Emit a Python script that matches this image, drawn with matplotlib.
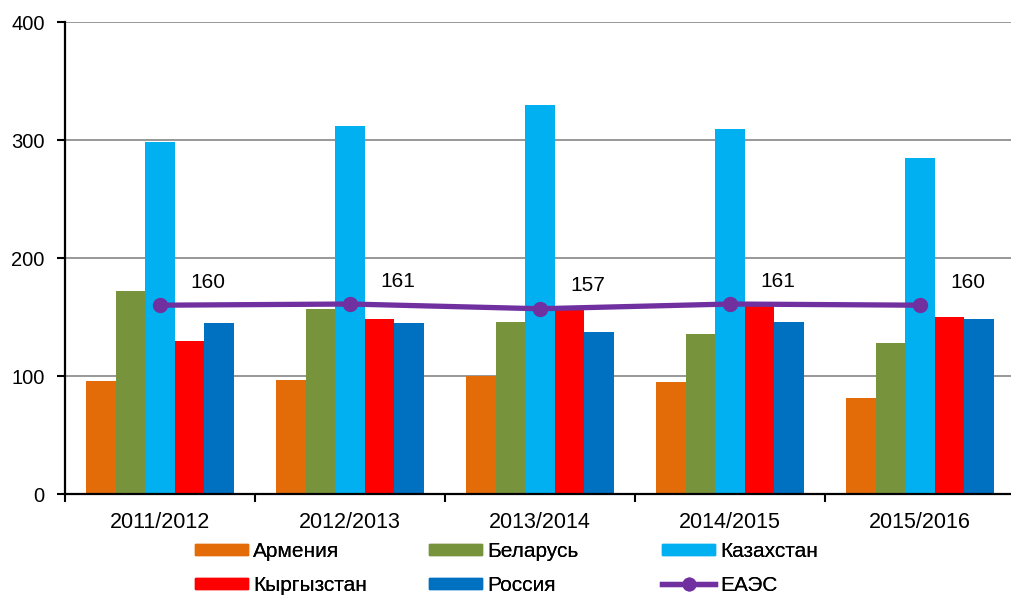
import matplotlib
matplotlib.use("Agg")
import matplotlib.pyplot as plt
import numpy as np
from matplotlib.patches import Patch
from matplotlib.lines import Line2D

plt.rcParams['font.family'] = ['Liberation Sans', 'DejaVu Sans']

years = ["2011/2012", "2012/2013", "2013/2014", "2014/2015", "2015/2016"]
armenia = [96, 97, 100, 95, 81]
belarus = [172, 157, 146, 136, 128]
kazakhstan = [298, 312, 330, 309, 285]
kyrgyzstan = [130, 148, 157, 160, 150]
russia = [145, 145, 137, 146, 148]
eaes = [160, 161, 157, 161, 160]

series_names = ["Армения", "Беларусь", "Казахстан", "Кыргызстан", "Россия"]
series_vals = [armenia, belarus, kazakhstan, kyrgyzstan, russia]
colors = ["#E36C09", "#77933C", "#00B0F0", "#FF0000", "#0070C0"]
line_color = "#7030A0"

fig = plt.figure(figsize=(10.12, 5.96), dpi=100)
ax = fig.add_axes([65/1012, (596-494)/596, 950/1012, 472/596])

x = np.arange(len(years))
w = 0.155
for i, (vals, c) in enumerate(zip(series_vals, colors)):
    ax.bar(x + (i - 2) * w, vals, width=w, color=c, zorder=2, linewidth=0)

ax.plot(x, eaes, color=line_color, lw=3.8, marker='o', markersize=10, zorder=4)
for xi, v in zip(x, eaes):
    ax.annotate(str(v), (xi, v), xytext=(48, 23), textcoords='offset pixels',
                ha='center', va='center', fontsize=15, color='black', zorder=5)

ax.set_xlim(-0.5, 4.5)
ax.set_ylim(0, 400)
ax.set_yticks([0, 100, 200, 300, 400])
ax.yaxis.grid(True, color='#868686', lw=1.2, zorder=0)
ax.set_axisbelow(True)
ax.set_xticks(x)
ax.set_xticklabels(years, fontsize=15.5)
ax.set_xticks(np.arange(-0.5, 5.0, 1.0), minor=True)
ax.tick_params(axis='x', which='major', length=0, pad=13)
ax.tick_params(axis='x', which='minor', length=6, width=1.5, direction='out')
ax.tick_params(axis='y', labelsize=14.5, length=6, width=1.5, direction='out', pad=8.5)
for s in ['top', 'right']:
    ax.spines[s].set_visible(False)
for s in ['left', 'bottom']:
    ax.spines[s].set_linewidth(1.6)
    ax.spines[s].set_color('black')

handles = [Patch(color=c, label=n) for c, n in zip(colors, series_names)]
handles.append(Line2D([0], [0], color=line_color, lw=3.8, marker='o', markersize=9, label="ЕАЭС"))

cols = [[handles[0], handles[3]], [handles[1], handles[4]], [handles[2], handles[5]]]
xs = [195, 429, 662]
for hx, hs in zip(xs, cols):
    leg = fig.legend(handles=hs, loc='upper left', bbox_to_anchor=(hx/1012, 1 - 542/596),
                     frameon=False, fontsize=15, handlelength=2.55, handleheight=0.48,
                     handletextpad=0.24, labelspacing=0.72, borderpad=0, borderaxespad=0)
    fig.add_artist(leg)

fig.savefig("out.png", dpi=100)
